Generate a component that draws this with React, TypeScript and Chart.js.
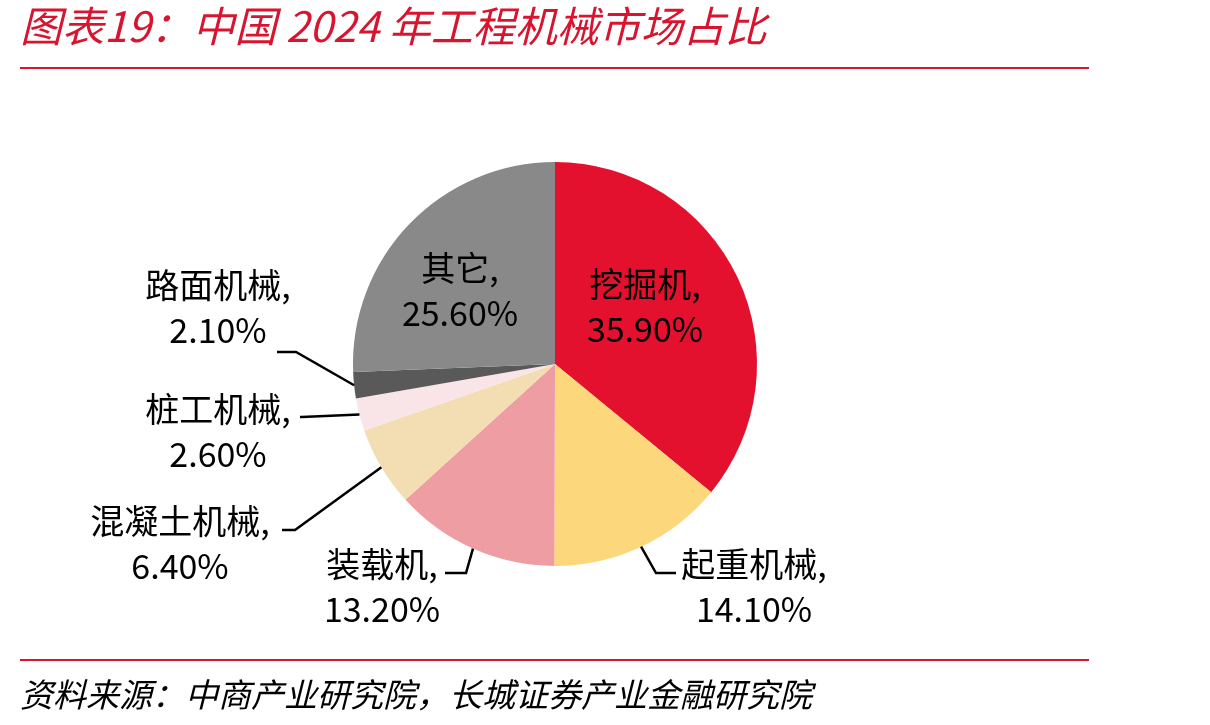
import React, { useEffect, useRef } from "react";
import { Chart, registerables } from "chart.js";

Chart.register(...registerables);

const title = "图表19：中国 2024 年工程机械市场占比";
const source = "资料来源：中商产业研究院，长城证券产业金融研究院";
const categories = ["挖掘机", "起重机械", "装载机", "混凝土机械", "桩工机械", "路面机械", "其它"];
const shares = [35.9, 14.1, 13.2, 6.4, 2.6, 2.1, 25.6];
const colors = ["#E4112E", "#FDD77C", "#EE9EA2", "#F3DEB3", "#F9E5E7", "#595959", "#898989"];

// label layout: center x, first line y, optional leader (elbow, end)
const labelLayout: { x: number; y: number; leader?: [number, number][] }[] = [
  { x: 645, y: 284 },
  { x: 754, y: 564, leader: [[656, 573], [676, 573]] },
  { x: 382, y: 564, leader: [[466, 573], [445, 573]] },
  { x: 180, y: 521, leader: [[295, 530], [282, 530]] },
  { x: 218, y: 409, leader: [[302, 417], [300, 417]] },
  { x: 218, y: 285, leader: [[296, 352], [277, 352]] },
  { x: 460, y: 268 },
];

const RED = "#D9142F";
const CJK = '"Noto Sans CJK SC", "Noto Sans", sans-serif';

const decorPlugin = {
  id: "decor",
  afterDraw(chart: any) {
    const ctx = chart.ctx as CanvasRenderingContext2D;
    ctx.save();
    // title
    ctx.fillStyle = RED;
    ctx.font = `italic 42px ${CJK}`;
    ctx.textBaseline = "middle";
    ctx.textAlign = "left";
    ctx.fillText(title, 20, 26);
    // lines
    ctx.strokeStyle = RED;
    ctx.lineWidth = 2;
    ctx.beginPath();
    ctx.moveTo(20, 68);
    ctx.lineTo(1089, 68);
    ctx.moveTo(20, 660);
    ctx.lineTo(1089, 660);
    ctx.stroke();
    // source
    ctx.fillStyle = "#000";
    ctx.font = `italic 33px ${CJK}`;
    ctx.fillText(source, 20, 694);

    // slice labels
    const meta = chart.getDatasetMeta(0);
    ctx.font = `34px ${CJK}`;
    ctx.textAlign = "center";
    ctx.lineWidth = 2.5;
    ctx.strokeStyle = "#000";
    meta.data.forEach((arc: any, i: number) => {
      const lay = labelLayout[i];
      ctx.fillStyle = "#000";
      ctx.fillText(categories[i] + ",", lay.x, lay.y);
      ctx.fillText(shares[i].toFixed(2) + "%", lay.x, lay.y + 45);
      if (lay.leader) {
        const p = arc.getProps(["x", "y", "startAngle", "endAngle", "outerRadius"], true);
        const mid = (p.startAngle + p.endAngle) / 2;
        const ex = p.x + Math.cos(mid) * p.outerRadius;
        const ey = p.y + Math.sin(mid) * p.outerRadius;
        ctx.beginPath();
        ctx.moveTo(ex, ey);
        lay.leader.forEach(([lx, ly]) => ctx.lineTo(lx, ly));
        ctx.stroke();
      }
    });
    ctx.restore();
  },
};

export default function App() {
  const ref = useRef<HTMLCanvasElement>(null);
  useEffect(() => {
    document.body.style.margin = "0";
    const chart = new Chart(ref.current!, {
      type: "pie",
      data: {
        labels: categories,
        datasets: [
          {
            data: shares,
            backgroundColor: colors,
            borderWidth: 0,
          },
        ],
      },
      options: {
        animation: false,
        responsive: false,
        layout: { padding: { top: 162, bottom: 159, left: 353, right: 453 } },
        plugins: { legend: { display: false }, tooltip: { enabled: false } },
      },
      plugins: [decorPlugin],
    });
    return () => chart.destroy();
  }, []);
  return (
    <div style={{ position: "absolute", left: 0, top: 0, width: 1210, height: 725, background: "#fff" }}>
      <canvas ref={ref} width={1210} height={725} />
    </div>
  );
}
